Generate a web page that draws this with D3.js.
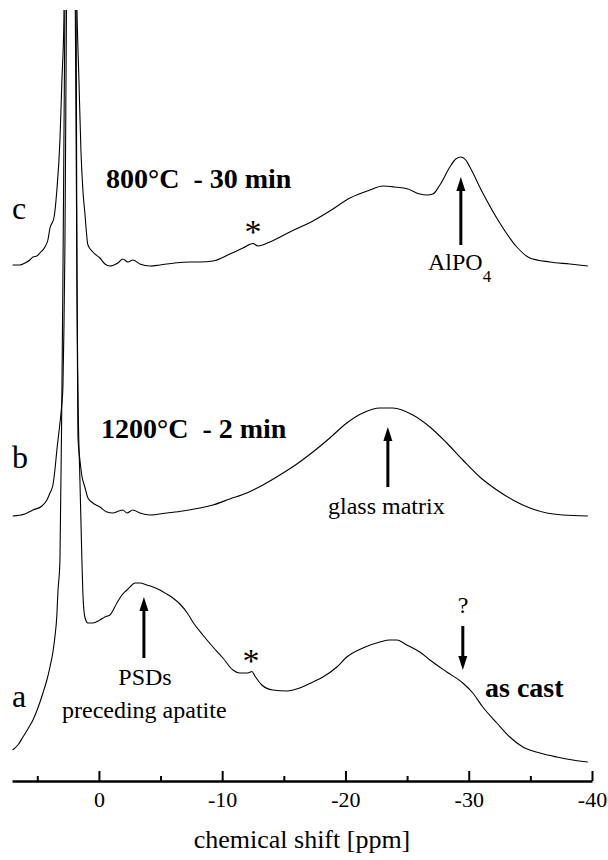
<!DOCTYPE html>
<html>
<head>
<meta charset="utf-8">
<script src="https://cdn.jsdelivr.net/npm/d3@7"></script>
</head>
<body style="margin:0;background:#fff">
<script>

const w = 608;
const h = 860;
const serif = '"Liberation Serif"';

// chemical shift axis
const majorTicks = [0, -10, -20, -30, -40];
const minorTicks = [5, -5, -15, -25, -35];
const axisTitle = 'chemical shift [ppm]';

// spectra: [ppm, intensity (arb. units)]
const spectrumA = [
  [7.0, 6], [6.57, 8], [6.16, 11.2], [5.76, 14.4], [5.35, 18], [4.95, 22.8], [4.54, 28.8],
  [4.22, 34], [3.97, 39.2], [3.73, 45.2], [3.57, 51.2], [3.41, 60], [3.33, 68.8], [3.16, 82],
  [3.0, 150], [2.92, 194], [2.76, 302], [2.68, 346], [2.27, 600], [1.87, 346], [1.78, 194],
  [1.70, 150], [1.54, 114], [1.38, 82], [1.30, 68.8], [1.14, 59.2], [0.89, 56.8], [0.49, 56.8],
  [-0.08, 58], [-0.49, 59.2], [-0.89, 60], [-1.46, 64.8], [-1.87, 68], [-2.27, 70], [-2.6, 71.6],
  [-2.92, 72.8], [-3.33, 72.8], [-3.89, 72], [-4.4, 71.2], [-4.95, 70], [-5.5, 68.4], [-6.0, 66.8],
  [-6.57, 64.4], [-7.14, 61], [-7.62, 57.2], [-8.43, 52], [-9.25, 47.2], [-10.06, 42.8],
  [-10.87, 38], [-11.44, 36.8], [-12.08, 36.8], [-12.41, 37.4], [-12.65, 35.6], [-13.22, 32],
  [-14.11, 30], [-15.25, 29.6], [-16.3, 30.8], [-17.36, 33.2], [-18.17, 35.2], [-19.3, 39.2],
  [-20.11, 43.2], [-21.41, 46.8], [-22.79, 49.2], [-23.6, 50], [-24.17, 50], [-24.98, 48],
  [-26.03, 45.2], [-26.85, 42], [-28.22, 37.2], [-29.52, 32.8], [-30.33, 28.8], [-31.14, 23.2],
  [-32.28, 16.8], [-33.33, 11.2], [-34.39, 7.2], [-35.77, 4.8], [-37.15, 3.2], [-38.44, 2],
  [-39.66, 1.2]
];

const spectrumB = [
  [7.0, -0.4], [6.0, 0.4], [5.35, 2], [4.62, 3.6], [4.22, 6], [3.97, 8.8], [3.73, 12],
  [3.57, 18], [3.41, 26], [3.16, 36.8], [3.0, 44.8], [2.92, 51.2], [2.84, 74], [2.76, 106],
  [2.68, 166], [2.27, 400], [1.87, 166], [1.78, 94], [1.70, 31.2], [1.54, 22], [1.38, 15.6],
  [1.14, 11.2], [0.89, 6.8], [0.49, 4.8], [-0.08, 3.2], [-0.65, 1.2], [-1.14, 0.8], [-1.6, 1.6],
  [-1.95, 2], [-2.27, 0.8], [-2.76, 2], [-3.33, 0.8], [-4.14, 0], [-5.51, 0.8], [-6.81, 1.6],
  [-8.19, 2.8], [-9.25, 4], [-10.62, 6.4], [-12.0, 8.8], [-13.3, 12], [-14.68, 16],
  [-16.06, 20.4], [-17.36, 25.2], [-18.73, 30.8], [-20.11, 36.8], [-21.41, 40.8], [-22.79, 42.8],
  [-23.84, 42.8], [-25.47, 40], [-26.85, 35.2], [-28.22, 28.8], [-29.52, 22], [-30.9, 15.2],
  [-32.28, 10], [-33.58, 6], [-34.96, 2.8], [-36.33, 0.8], [-37.63, 0], [-39.66, -0.4]
];

const spectrumC = [
  [7.0, 0], [6.41, 0], [6.0, 0.8], [5.6, 2], [5.35, 3.2], [5.03, 3.6], [4.79, 4.8], [4.38, 7.2],
  [4.14, 10], [3.97, 14.8], [3.65, 18.8], [3.41, 30], [3.16, 50], [3.0, 74], [2.84, 98],
  [2.68, 186], [2.35, 400], [2.03, 186], [1.78, 102], [1.62, 74], [1.46, 46], [1.30, 30],
  [1.14, 20.8], [0.89, 8], [0.49, 5.2], [-0.08, 2.8], [-0.49, 0.4], [-0.89, -0.4], [-1.54, 0.8],
  [-1.95, 2.4], [-2.35, 1.2], [-2.76, 2], [-3.33, 0.4], [-4.14, -0.4], [-4.95, 0], [-6.16, 0.8],
  [-7.38, 1.2], [-8.19, 1.2], [-9.25, 1.6], [-10.62, 4.4], [-11.68, 6.8], [-12.49, 8.6],
  [-12.9, 7.6], [-13.87, 9.2], [-15.49, 13.2], [-17.36, 17.6], [-18.73, 21.6], [-20.36, 26.8],
  [-21.98, 30], [-23.03, 31.6], [-24.0, 31.2], [-25.06, 30.4], [-26.03, 28.4], [-26.6, 28],
  [-27.09, 28.4], [-27.66, 32], [-28.47, 39.2], [-28.95, 42.4], [-29.36, 43.2], [-29.76, 42],
  [-30.09, 39.2], [-31.14, 28.8], [-32.52, 16.8], [-33.9, 7.2], [-34.96, 2.8], [-36.58, 1.2],
  [-38.2, 0.4], [-39.66, -0.4]
];

const spectra = [
  { name: 'a', values: spectrumA, offset: 0 },
  { name: 'b', values: spectrumB, offset: 100 },
  { name: 'c', values: spectrumC, offset: 200 }
];

const svg = d3.select('body').append('svg')
  .attr('width', w)
  .attr('height', h)
  .style('display', 'block');

const xScale = d3.scaleLinear()
  .domain([7.05, -40])
  .range([12, 592]);

const yScale = d3.scaleLinear()
  .domain([0, 300])
  .range([765, 15]);

svg.append('defs').append('clipPath')
  .attr('id', 'clip')
  .append('rect')
  .attr('x', 0).attr('y', 10)
  .attr('width', w).attr('height', h - 10);

const line = d3.line()
  .curve(d3.curveMonotoneX);

svg.append('g')
  .attr('clip-path', 'url(#clip)')
  .selectAll('path')
  .data(spectra)
  .enter()
  .append('path')
  .attr('fill', 'none')
  .attr('stroke', '#000')
  .attr('stroke-width', 1.1)
  .attr('d', s => line(s.values.map(d => [xScale(d[0]), yScale(d[1] + s.offset)])));

// axis
const axisY = 781;
svg.append('g')
  .attr('transform', 'translate(0,' + axisY + ')')
  .call(d3.axisBottom(xScale)
    .tickValues(minorTicks)
    .tickSizeInner(-5)
    .tickSizeOuter(0)
    .tickFormat(''))
  .call(g => g.select('.domain').remove())
  .call(g => g.selectAll('line').attr('stroke-width', 2));

svg.append('g')
  .attr('transform', 'translate(0,' + axisY + ')')
  .call(d3.axisBottom(xScale)
    .tickValues(majorTicks)
    .tickSizeInner(-10)
    .tickSizeOuter(0)
    .tickPadding(10)
    .tickFormat(d => String(d)))
  .call(g => g.select('.domain').attr('stroke-width', 2.5))
  .call(g => g.selectAll('line').attr('stroke-width', 2))
  .call(g => g.selectAll('text').attr('font-size', 22));

function label(x, y, size, str, opts) {
  const t = svg.append('text')
    .attr('x', x).attr('y', y)
    .attr('font-size', size)
    .style('font-family', serif)
    .text(str);
  if (opts && opts.bold) t.style('font-weight', 'bold');
  if (opts && opts.anchor) t.attr('text-anchor', opts.anchor);
  return t;
}

label(302, 848, 26, axisTitle, { anchor: 'middle' });

// trace letters
const letters = [['c', 219], ['b', 468], ['a', 707]];
letters.forEach(d => label(12, d[1], 32, d[0]));

// condition labels
label(106, 188, 28, '800°C\u00a0\u00a0- 30 min', { bold: true });
label(101, 438, 28, '1200°C\u00a0\u00a0- 2 min', { bold: true });
label(485, 697, 28, 'as cast', { bold: true });

// annotation arrows [ppm, from, to] in stacked units
const arrows = [
  [-29.36, 208, 235.2],
  [-23.44, 111.2, 135.2],
  [-3.65, 42.8, 67.2],
  [-29.52, 55.6, 38]
];

const arrowG = svg.append('g');
arrows.forEach(a => {
  const x = xScale(a[0]);
  const y0 = yScale(a[1]);
  const y1 = yScale(a[2]);
  const dir = y1 < y0 ? 1 : -1;
  const headLen = 14;
  arrowG.append('line')
    .attr('x1', x).attr('x2', x)
    .attr('y1', y0).attr('y2', y1 + dir * headLen * 0.8)
    .attr('stroke', '#000').attr('stroke-width', 3);
  arrowG.append('path')
    .attr('d', 'M' + x + ',' + y1 + 'L' + (x - 4.5) + ',' + (y1 + dir * headLen) +
      'L' + (x + 4.5) + ',' + (y1 + dir * headLen) + 'Z')
    .attr('fill', '#000');
});

// annotation texts
const alpo = label(428, 270, 24, '');
alpo.append('tspan').text('AlPO');
alpo.append('tspan').attr('font-size', 17).attr('dy', 12).text('4');

label(328, 514, 24, 'glass matrix');
label(145, 685, 24, 'PSDs', { anchor: 'middle' });
label(62, 718, 24, 'preceding apatite');
label(463, 613, 24, '?', { anchor: 'middle' });

// asterisks over the spinning sidebands
label(253, 243, 34, '*', { anchor: 'middle' });
label(251, 672, 34, '*', { anchor: 'middle' });

// tick labels in the same face
svg.selectAll('.tick text').style('font-family', serif);

</script>
</body>
</html>
